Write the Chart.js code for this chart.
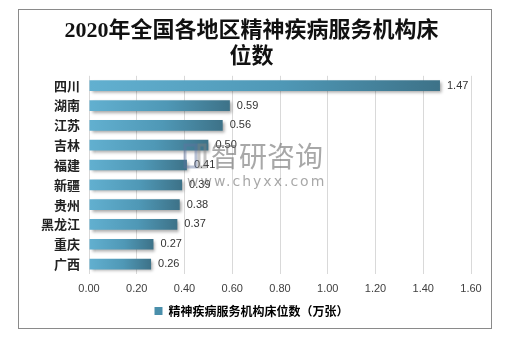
<!DOCTYPE html>
<html>
<head>
<meta charset="utf-8">
<script src="https://cdn.jsdelivr.net/npm/chart.js@4.4.1/dist/chart.umd.min.js"></script>
<style>
  body { margin: 0; background: #fff; }
  .box { position: absolute; left: 18px; top: 9px; width: 472px; height: 318px; border: 1px solid #8a8a8a; }
</style>
</head>
<body>
<div class="box"><canvas id="bedChart" width="472" height="318"></canvas></div>
<script>
// 2020年各地区精神疾病服务机构床位数（万张）
const regions = ['四川', '湖南', '江苏', '吉林', '福建', '新疆', '贵州', '黑龙江', '重庆', '广西'];
const beds = [1.47, 0.59, 0.56, 0.50, 0.41, 0.39, 0.38, 0.37, 0.27, 0.26];
const xTicks = [0, 0.2, 0.4, 0.6, 0.8, 1.0, 1.2, 1.4, 1.6];

const ctx = document.getElementById('bedChart').getContext('2d');

// gradient per bar, light at the base, darker toward the end
function barFill(c) {
    if (c.type !== 'data') return '#4a8fab';
    const xs = c.chart.scales.x;
    if (!xs || xs.width === 0) return '#4a8fab';
    const x0 = xs.getPixelForValue(0);
    const x1 = xs.getPixelForValue(c.raw);
    const g = c.chart.ctx.createLinearGradient(x0, 0, x1, 0);
    g.addColorStop(0, '#62b0d0');
    g.addColorStop(0.55, '#4f98b6');
    g.addColorStop(1, '#3d7288');
    return g;
}

const barShadow = {
    id: 'barShadow',
    beforeDatasetsDraw(chart) {
        const c = chart.ctx;
        c.save();
        c.shadowColor = 'rgba(0,0,0,0.35)';
        c.shadowBlur = 3;
        c.shadowOffsetX = 2;
        c.shadowOffsetY = 2;
    },
    afterDatasetsDraw(chart) {
        chart.ctx.restore();
    }
};

const valueLabels = {
    id: 'valueLabels',
    afterDatasetsDraw(chart) {
        const c = chart.ctx;
        const meta = chart.getDatasetMeta(0);
        c.save();
        c.font = '11px "Liberation Sans", Arial, sans-serif';
        c.fillStyle = '#333';
        c.textBaseline = 'middle';
        meta.data.forEach((bar, i) => {
            c.fillText(beds[i].toFixed(2), bar.x + 7, bar.y);
        });
        c.restore();
    }
};

const watermark = {
    id: 'watermark',
    afterDraw(chart) {
        const c = chart.ctx;
        c.save();
        c.fillStyle = 'rgba(110,110,110,0.6)';
        c.font = '28px "Noto Sans CJK SC", sans-serif';
        c.textBaseline = 'middle';
        c.fillText('智研咨询', 192, 146);
        c.font = '14px "DejaVu Sans", sans-serif';
        c.letterSpacing = '2px';
        c.fillText('www.chyxx.com', 168, 172);
        c.strokeStyle = 'rgba(95,115,160,0.45)';
        c.lineWidth = 3;
        c.strokeRect(166, 135, 11, 22);
        c.strokeStyle = 'rgba(130,130,130,0.45)';
        c.strokeRect(180, 135, 6, 22);
        c.restore();
    }
};

new Chart(ctx, {
    type: 'bar',
    data: {
        labels: regions,
        datasets: [{
            label: '精神疾病服务机构床位数（万张）',
            data: beds,
            backgroundColor: barFill,
            borderWidth: 0,
            barPercentage: 0.6,
            categoryPercentage: 0.9
        }]
    },
    options: {
        indexAxis: 'y',
        responsive: false,
        animation: false,
        layout: { padding: { left: 13, right: 20, top: 0, bottom: 1 } },
        scales: {
            x: {
                min: 0,
                max: 1.6,
                afterBuildTicks(axis) { axis.ticks = xTicks.map(v => ({ value: v })); },
                grid: { color: '#d9d9d9', drawTicks: false },
                border: { display: false },
                ticks: {
                    padding: 9,
                    color: '#404040',
                    font: { family: '"Liberation Sans", Arial, sans-serif', size: 11, lineHeight: 1 },
                    callback: v => Number(v).toFixed(2)
                }
            },
            y: {
                grid: { display: false, drawTicks: false },
                border: { display: false },
                ticks: {
                    padding: 9,
                    color: '#222',
                    font: { family: '"Noto Sans CJK SC", sans-serif', size: 13, weight: 'bold' }
                }
            }
        },
        plugins: {
            title: {
                display: true,
                text: ['2020年全国各地区精神疾病服务机构床', '位数'],
                color: '#111',
                font: { family: '"Liberation Serif", "Noto Sans CJK SC", serif', size: 22, weight: 'bold', lineHeight: 1.2 },
                padding: { top: 8, bottom: 5 }
            },
            legend: {
                position: 'bottom',
                labels: {
                    boxWidth: 8,
                    boxHeight: 8,
                    padding: 2,
                    color: '#333',
                    font: { family: '"Noto Sans CJK SC", sans-serif', size: 12, weight: 'bold' },
                    generateLabels: () => [{
                        text: '精神疾病服务机构床位数（万张）',
                        fillStyle: '#4a8fab',
                        strokeStyle: '#3e7389',
                        lineWidth: 0,
                        datasetIndex: 0
                    }]
                }
            },
            tooltip: { enabled: false }
        }
    },
    plugins: [barShadow, valueLabels, watermark]
});
</script>
</body>
</html>
